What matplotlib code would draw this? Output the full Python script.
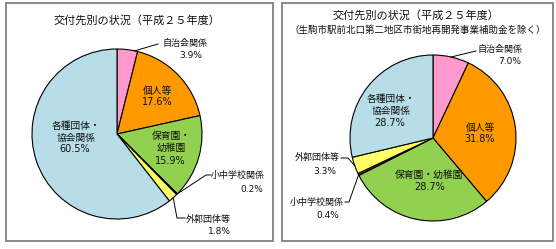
import numpy as np
import matplotlib
matplotlib.use("Agg")
import matplotlib.pyplot as plt
from matplotlib.patches import Rectangle

plt.rcParams['font.family'] = ['Noto Sans CJK JP', 'DejaVu Sans']
NUMFAM = ['DejaVu Sans', 'Noto Sans CJK JP']

categories = ["自治会関係", "個人等", "保育園・幼稚園", "小中学校関係", "外郭団体等", "各種団体・協会関係"]
values_left = [3.9, 17.6, 15.9, 0.2, 1.8, 60.5]
values_right = [7.0, 31.8, 28.7, 0.4, 3.3, 28.7]
colors = ["#FF99CC", "#FF9900", "#92D050", "#993300", "#FFFF66", "#B7DEE8"]

title_left = "交付先別の状況（平成２５年度）"
title_right1 = "交付先別の状況（平成２５年度）"
title_right2 = "（生駒市駅前北口第二地区市街地再開発事業補助金を除く）"

W, H = 556, 249
fig = plt.figure(figsize=(W / 100, H / 100), dpi=100)
ax = fig.add_axes([0, 0, 1, 1])


def P(x, y):
    return (x, H - y)


# panel borders
for (x0, x1) in [(6, 273), (282, 553)]:
    ax.add_patch(Rectangle(P(x0, 241), x1 - x0, 238, fill=False,
                           edgecolor="#808080", linewidth=1.3))


def draw_pie(vals, cx, cy, r):
    ax.pie(vals, colors=colors, startangle=90, counterclock=False,
           center=P(cx, cy), radius=r, frame=True,
           wedgeprops=dict(edgecolor="black", linewidth=0.8))
    cum = np.concatenate([[0], np.cumsum(vals)])
    mids = 90 - (cum[:-1] + np.array(vals) / 2) * 3.6
    return mids


def edge_point(cx, cy, r, ang):
    a = np.deg2rad(ang)
    return (cx + r * np.cos(a), H - (cy - r * np.sin(a)))


def label(x, y, s, fs=6.5, ha='center', va='center', fam=None):
    kw = {}
    if fam is not None:
        kw['family'] = fam
    ax.text(*P(x, y), s, fontsize=fs, ha=ha, va=va, linespacing=1.25,
            color="#111111", **kw)


def pct(v):
    return f"{v}%"


def leader(start, pts):
    xs = [start[0]] + [p[0] for p in pts]
    ys = [start[1]] + [H - p[1] for p in pts]
    ax.plot(xs, ys, color="black", linewidth=0.7)


# ---------- left pie ----------
lcx, lcy, lr = 117, 134, 85
mids = draw_pie(values_left, lcx, lcy, lr)
ax.text(*P(137, 20), title_left, fontsize=8, ha='center', va='center', color="#111111")

label(185, 43, categories[0])
label(191, 55, pct(values_left[0]), fam=NUMFAM)
leader(edge_point(lcx, lcy, lr, mids[0] - 5), [(158, 44)])

label(157, 91, "個人等", fs=7)
label(157, 102, pct(values_left[1]), fs=7, fam=NUMFAM)
label(171, 142, "保育園・\n幼稚園", fs=7)
label(170, 161, pct(values_left[2]), fs=7, fam=NUMFAM)
label(76, 132, "各種団体・\n協会関係", fs=7)
label(75, 149, pct(values_left[5]), fs=7, fam=NUMFAM)

label(238, 175, categories[3])
label(252, 190, pct(values_left[3]), fam=NUMFAM)
leader(edge_point(lcx, lcy, lr, mids[3]), [(206, 175), (211, 175)])

label(208, 219, categories[4])
label(219, 231, pct(values_left[4]), fam=NUMFAM)
leader(edge_point(lcx, lcy, lr, mids[4]), [(177, 218), (185, 218)])

# ---------- right pie ----------
rcx, rcy, rr = 433, 138, 83
mids = draw_pie(values_right, rcx, rcy, rr)
ax.text(*P(416, 15), title_right1, fontsize=8, ha='center', va='center', color="#111111")
ax.text(*P(418, 30), title_right2, fontsize=6.8, ha='center', va='center', color="#111111")

label(500, 49, categories[0])
label(510, 61, pct(values_right[0]), fam=NUMFAM)
leader(edge_point(rcx, rcy, rr, mids[0]), [(476, 51)])

label(480, 128, "個人等", fs=7)
label(480, 139, pct(values_right[1]), fs=7, fam=NUMFAM)
label(429, 175, "保育園・幼稚園", fs=7)
label(430, 187, pct(values_right[2]), fs=7, fam=NUMFAM)
label(391, 105, "各種団体・\n協会関係", fs=7)
label(390, 123, pct(values_right[5]), fs=7, fam=NUMFAM)

label(340, 157, categories[4], ha='right')
label(336, 172, pct(values_right[4]), ha='right', fam=NUMFAM)
leader(edge_point(rcx, rcy, rr, mids[4]), [(348, 158), (341, 158)])

label(344, 202, categories[3], ha='right')
label(328, 215, pct(values_right[3]), fam=NUMFAM)
leader(edge_point(rcx, rcy, rr, mids[3]), [(349, 202), (345, 202)])

ax.set_xlim(0, W)
ax.set_ylim(0, H)
ax.set_aspect('equal')
ax.axis('off')
fig.savefig("out.png", dpi=100, facecolor="white")
